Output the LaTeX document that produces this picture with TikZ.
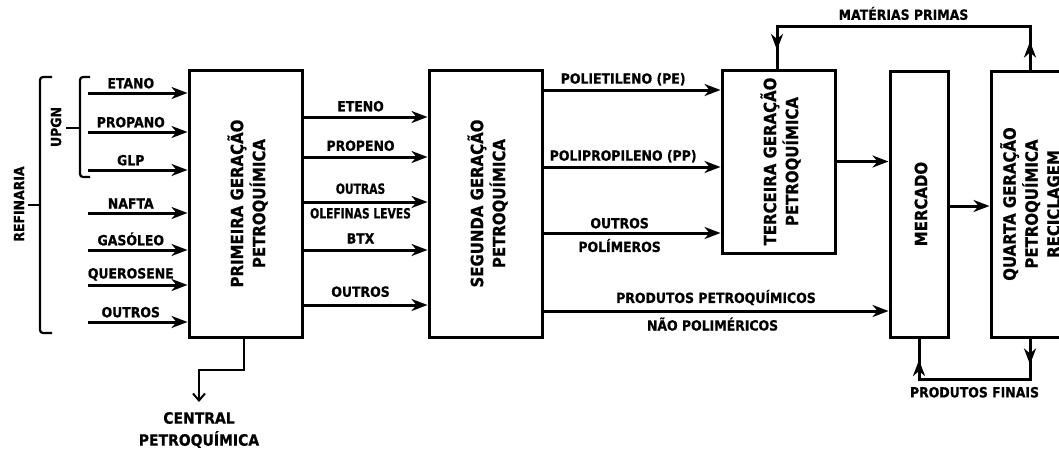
\documentclass[tikz,border=0pt]{standalone}
\usepackage{fontspec}
\setmainfont[BoldFeatures={FakeBold=0.8}]{DejaVu Sans}
\usepackage{graphicx}
\usepackage{tikz}
\usetikzlibrary{arrows.meta,positioning}
\newcommand{\lblfont}{\fontsize{14}{16}\selectfont\bfseries}
\newcommand{\boxfont}{\fontsize{16.8}{22}\selectfont\bfseries}
\newcommand{\cond}[1]{\scalebox{0.86}[1]{#1}}
\tikzset{
  box/.style={rectangle, draw=black, line width=3pt, fill=white, inner sep=0pt},
  boxtxt/.style={rotate=90, xscale=0.89, align=center, font=\boxfont},
  txt/.style={xscale=0.89, font=\lblfont},
  arr/.style={-{Stealth[length=16pt, width=12pt, inset=5pt]}, line width=3pt},
  ln/.style={line width=3pt},
  carr/.style={-{Straight Barb[length=7pt, width=12pt]}, line width=2pt},
  brk/.style={line width=2.2pt, rounded corners=3pt},
  lbl/.style={inner sep=3pt, txt},
}
\begin{document}
\begin{tikzpicture}[x=1pt, y=-1pt]
  \useasboundingbox (0,0) rectangle (1059,452);
  \clip (0,0) rectangle (1059,452);

  % caixas
  \node[box, minimum width=113pt, minimum height=267pt] (prim) at (245.5,203.5) {};
  \node[box, minimum width=113pt, minimum height=267pt] (seg) at (485.5,203.5) {};
  \node[box, minimum width=113pt, minimum height=183pt] (terc) at (778.5,161.5) {};
  \node[box, minimum width=58pt, minimum height=266pt] (merc) at (919,204) {};
  \node[box, minimum width=78pt, minimum height=266pt] (quarta) at (1030,204) {};

  \node[boxtxt] (primtxt) at ([xshift=2pt]prim.center) {PRIMEIRA GERAÇÃO\\PETROQUÍMICA};
  \node[boxtxt] (segtxt) at ([xshift=2pt]seg.center) {SEGUNDA GERAÇÃO\\PETROQUÍMICA};
  \node[boxtxt] (terctxt) at ([xshift=2pt]terc.center) {TERCEIRA GERAÇÃO\\PETROQUÍMICA};
  \node[boxtxt] (merctxt) at ([xshift=2pt]merc.center) {MERCADO};
  \node[boxtxt] (quartatxt) at (quarta.center) {QUARTA GERAÇÃO\\PETROQUÍMICA\\RECICLAGEM};

  % chaves
  \draw[brk] (52,77) -- (40,77) -- (40,333) -- (52,333);
  \draw[brk] (40,205) -- (28,205);
  \node[rotate=90, txt] (refin) at (19,204) {REFINARIA};
  \draw[brk] (90,77) -- (80,77) -- (80,177) -- (90,177);
  \draw[brk] (80,128) -- (66,128);
  \node[rotate=90, txt] (upgn) at (56,127) {UPGN};

  % entradas
  \coordinate (etano) at (88,93);
  \coordinate (propano) at (88,132);
  \coordinate (glp) at (88,170);
  \coordinate (nafta) at (88,213);
  \coordinate (gasoleo) at (88,250);
  \coordinate (querosene) at (88,285);
  \coordinate (outrosin) at (88,322);
  \draw[arr] (etano) -- node[lbl, above, pos=0.43] {ETANO} (etano -| prim.west);
  \draw[arr] (propano) -- node[lbl, above, pos=0.43] {PROPANO} (propano -| prim.west);
  \draw[arr] (glp) -- node[lbl, above, pos=0.43] {GLP} (glp -| prim.west);
  \draw[arr] (nafta) -- node[lbl, above, pos=0.43] {NAFTA} (nafta -| prim.west);
  \draw[arr] (gasoleo) -- node[lbl, above, pos=0.43] {GASÓLEO} (gasoleo -| prim.west);
  \draw[arr] (querosene) -- node[lbl, above, pos=0.43] {QUEROSENE} (querosene -| prim.west);
  \draw[arr] (outrosin) -- node[lbl, above, pos=0.43] {OUTROS} (outrosin -| prim.west);

  % primeira -> segunda
  \coordinate (eteno) at (0,117);
  \coordinate (propeno) at (0,157);
  \coordinate (olef) at (0,202);
  \coordinate (btx) at (0,250);
  \coordinate (outrosa) at (0,305);
  \draw[arr] (prim.east |- eteno) -- node[lbl, above, pos=0.46, yshift=1pt] {ETENO} (seg.west |- eteno);
  \draw[arr] (prim.east |- propeno) -- node[lbl, above, pos=0.46, yshift=1.5pt] {PROPENO} (seg.west |- propeno);
  \draw[arr] (prim.east |- olef) -- node[lbl, above, pos=0.46, yshift=3.5pt] {\cond{OUTRAS}}
        node[lbl, below, pos=0.46, yshift=-1.5pt] {\cond{OLEFINAS LEVES}} (seg.west |- olef);
  \draw[arr] (prim.east |- btx) -- node[lbl, above, pos=0.46, yshift=2pt] {BTX} (seg.west |- btx);
  \draw[arr] (prim.east |- outrosa) -- node[lbl, above, pos=0.46, yshift=3.5pt] {OUTROS} (seg.west |- outrosa);

  % segunda -> terceira / mercado
  \coordinate (pe) at (0,90);
  \coordinate (pp) at (0,167);
  \coordinate (polim) at (0,233);
  \coordinate (naopol) at (0,311);
  \draw[arr] (seg.east |- pe) -- node[lbl, above, pos=0.45] {POLIETILENO (PE)} (terc.west |- pe);
  \draw[arr] (seg.east |- pp) -- node[lbl, above, pos=0.45] {POLIPROPILENO (PP)} (terc.west |- pp);
  \draw[arr] (seg.east |- polim) -- node[lbl, above, pos=0.43] {OUTROS}
        node[lbl, below, pos=0.43, yshift=-1.5pt] {POLÍMEROS} (terc.west |- polim);
  \draw[arr] (seg.east |- naopol) -- node[lbl, above, yshift=1.5pt] {PRODUTOS PETROQUÍMICOS}
        node[lbl, below, pos=0.49, yshift=-2pt] {NÃO POLIMÉRICOS} (merc.west |- naopol);

  % terceira -> mercado -> quarta
  \draw[arr] (terc.east) -- (terc.east -| merc.west);
  \draw[arr] ([yshift=-2pt]merc.east) -- ([yshift=-2pt]merc.east -| quarta.west);

  % materias primas
  \coordinate (toplvl) at (0,27);
  \coordinate (mpR) at (quarta.north |- toplvl);
  \coordinate (mpL) at ([xshift=-1.5pt]terc.north |- toplvl);
  \draw[ln] (quarta.north) -- (mpR) -- node[lbl, above, yshift=2.5pt] {MATÉRIAS PRIMAS} (mpL) -- (mpL |- terc.north);
  \draw[arr] (quarta.north) -- ++(0,-28);
  \draw[arr] (mpL) -- ++(0,23);

  % produtos finais
  \coordinate (botlvl) at (0,379);
  \coordinate (pfR) at (quarta.south |- botlvl);
  \coordinate (pfL) at (merc.south |- botlvl);
  \draw[ln] (quarta.south) -- (pfR) -- node[lbl, below, yshift=-3.5pt] {PRODUTOS FINAIS} (pfL) -- (merc.south);
  \draw[arr] (quarta.south) -- ++(0,26);
  \draw[arr] (pfL) -- ++(0,-19);

  % central petroquimica
  \coordinate (cmid) at (199,370);
  \coordinate (cend) at (199,402);
  \draw[carr] ([xshift=-2pt]prim.south) |- (cmid) -- (cend);
  \node[xscale=0.9, font=\fontsize{15.5}{22}\selectfont\bfseries, align=center] (central) at (199,430) {CENTRAL\\PETROQUÍMICA};
\end{tikzpicture}
\end{document}
